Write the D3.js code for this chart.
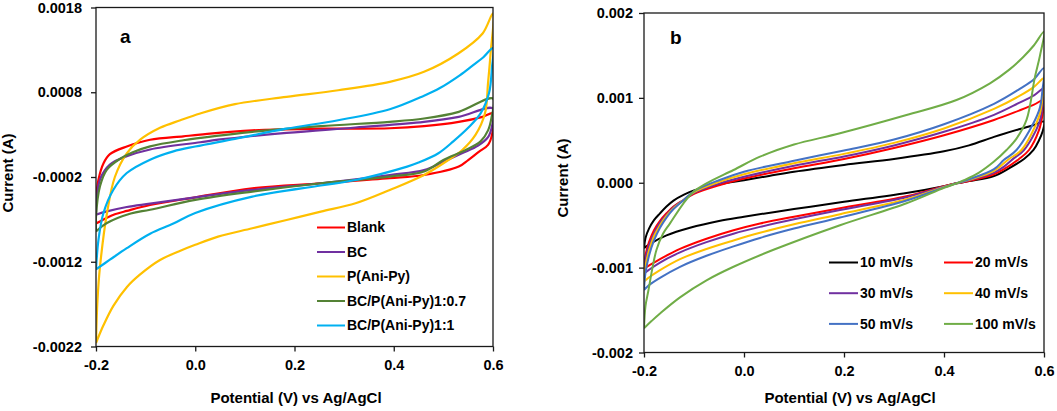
<!DOCTYPE html>
<html><head><meta charset="utf-8">
<script src="https://cdn.jsdelivr.net/npm/d3@7"></script>
<style>
body{margin:0;background:#fff;}
svg text{font-family:"Liberation Sans",Arial,sans-serif;font-weight:bold;fill:#000;}
</style></head><body>
<svg id="c" width="1057" height="411"></svg>
<script>
// ---------- tick values / labels ----------
const xTicks = [-0.2, 0, 0.2, 0.4, 0.6];
const xTickLabels = ["-0.2", "0.0", "0.2", "0.4", "0.6"];
const aYTicks = [0.0018, 0.0008, -0.0002, -0.0012, -0.0022];
const aYTickLabels = ["0.0018", "0.0008", "-0.0002", "-0.0012", "-0.0022"];
const bYTicks = [0.002, 0.001, 0, -0.001, -0.002];
const bYTickLabels = ["0.002", "0.001", "0.000", "-0.001", "-0.002"];

// ---------- panel a series (potential V, current mA) ----------
const aNames = ["Blank", "BC", "P(Ani-Py)", "BC/P(Ani-Py)1:0.7", "BC/P(Ani-Py)1:1"];
const aColors = ["#ff0000", "#7030a0", "#ffc000", "#548235", "#00b0f0"];
const blankFwd = [[-0.2,-0.75],[-0.2,-0.47],[-0.195,-0.23],[-0.185,-0.04],[-0.172,0.07],[-0.138,0.16],[-0.091,0.24],[-0.024,0.28],[0.01,0.30],[0.115,0.35],[0.254,0.37],[0.392,0.375],[0.461,0.40],[0.531,0.45],[0.579,0.51],[0.6,0.55]];
const blankRev = [[0.598,0.3],[0.59,0.18],[0.572,0.1],[0.55,0.0],[0.531,-0.077],[0.461,-0.176],[0.392,-0.215],[0.253,-0.274],[0.115,-0.333],[0.0,-0.44],[-0.091,-0.53],[-0.138,-0.6],[-0.162,-0.64],[-0.178,-0.68],[-0.2,-0.75]];
const bcFwd = [[-0.2,-0.645],[-0.199,-0.5],[-0.192,-0.23],[-0.172,-0.054],[-0.138,0.044],[-0.091,0.125],[0.01,0.21],[0.046,0.24],[0.184,0.32],[0.323,0.384],[0.461,0.451],[0.531,0.51],[0.6,0.608]];
const bcRev = [[0.598,0.4],[0.59,0.27],[0.57,0.17],[0.5375,0.08],[0.5,-0.02],[0.461,-0.118],[0.392,-0.177],[0.253,-0.274],[0.115,-0.353],[0.0,-0.44],[-0.091,-0.515],[-0.138,-0.554],[-0.178,-0.606],[-0.2,-0.645]];
const pFwd = [[-0.2,-2.16],[-0.197,-1.65],[-0.192,-1.26],[-0.178,-0.63],[-0.162,-0.2],[-0.138,0.08],[-0.111,0.24],[-0.071,0.38],[-0.03,0.47],[0.01,0.55],[0.08,0.66],[0.184,0.746],[0.288,0.824],[0.392,0.923],[0.461,1.041],[0.53,1.257],[0.579,1.493],[0.6,1.73]];
const pRev = [[0.595,1.25],[0.59,0.91],[0.584,0.555],[0.565,0.3],[0.538,0.118],[0.51,0.0],[0.461,-0.176],[0.392,-0.353],[0.323,-0.51],[0.253,-0.608],[0.184,-0.707],[0.115,-0.805],[0.046,-0.903],[0.0,-1.0],[-0.03,-1.07],[-0.071,-1.18],[-0.111,-1.35],[-0.138,-1.5],[-0.165,-1.72],[-0.185,-1.95],[-0.2,-2.16]];
const b07Fwd = [[-0.2,-0.842],[-0.2,-0.665],[-0.192,-0.31],[-0.178,-0.113],[-0.152,0.013],[-0.127,0.09],[-0.091,0.162],[-0.024,0.234],[0.01,0.261],[0.115,0.333],[0.253,0.40],[0.392,0.451],[0.461,0.49],[0.531,0.569],[0.6,0.726]];
const b07Rev = [[0.597,0.5],[0.59,0.35],[0.575,0.22],[0.545,0.118],[0.5,0.0],[0.461,-0.136],[0.392,-0.195],[0.253,-0.274],[0.115,-0.372],[0.0,-0.47],[-0.091,-0.586],[-0.13,-0.63],[-0.178,-0.743],[-0.2,-0.842]];
const b11Fwd = [[-0.2,-1.29],[-0.195,-0.94],[-0.185,-0.625],[-0.165,-0.35],[-0.138,-0.153],[-0.091,0.005],[-0.044,0.103],[0.0,0.16],[0.08,0.25],[0.184,0.37],[0.288,0.47],[0.392,0.6],[0.461,0.76],[0.493,0.85],[0.533,1.0],[0.56,1.12],[0.58,1.21],[0.6,1.32]];
const b11Rev = [[0.598,1.1],[0.592,0.79],[0.575,0.55],[0.55,0.38],[0.52,0.22],[0.49,0.08],[0.45,-0.03],[0.427,-0.077],[0.323,-0.235],[0.253,-0.3],[0.115,-0.431],[0.0,-0.625],[-0.044,-0.75],[-0.091,-0.87],[-0.138,-1.04],[-0.172,-1.176],[-0.2,-1.29]];

// ---------- panel b series (potential V, current mA) ----------
const bNames = ["10 mV/s", "20 mV/s", "30 mV/s", "40 mV/s", "50 mV/s", "100 mV/s"];
const bColors = ["#000000", "#ff0000", "#7030a0", "#ffc000", "#4472c4", "#70ad47"];
const s10Fwd = [[-0.2,-0.77],[-0.197,-0.65],[-0.19,-0.54],[-0.18,-0.44],[-0.168,-0.36],[-0.155,-0.28],[-0.141,-0.21],[-0.12,-0.14],[-0.1,-0.09],[-0.05,-0.02],[0,0.03],[0.05,0.08],[0.1,0.13],[0.2,0.21],[0.3,0.28],[0.4,0.37],[0.45,0.44],[0.5,0.54],[0.55,0.63],[0.58,0.68],[0.6,0.72]];
const s10Rev = [[0.597,0.6],[0.59,0.5],[0.579,0.386],[0.56,0.28],[0.53,0.17],[0.5,0.08],[0.45,0.02],[0.425,-0.007],[0.4,-0.04],[0.325,-0.12],[0.2,-0.225],[0.1,-0.31],[0.0,-0.4],[-0.05,-0.45],[-0.108,-0.53],[-0.155,-0.62],[-0.188,-0.72],[-0.2,-0.77]];
const s20Fwd = [[-0.2,-1.01],[-0.197,-0.85],[-0.19,-0.7],[-0.18,-0.56],[-0.168,-0.45],[-0.155,-0.36],[-0.141,-0.28],[-0.12,-0.2],[-0.1,-0.13],[-0.05,-0.03],[0,0.05],[0.1,0.17],[0.2,0.28],[0.3,0.41],[0.4,0.56],[0.5,0.74],[0.55,0.85],[0.58,0.92],[0.6,0.975]];
const s20Rev = [[0.597,0.8],[0.59,0.62],[0.57,0.386],[0.55,0.28],[0.52,0.16],[0.5,0.1],[0.45,0.02],[0.425,-0.007],[0.4,-0.04],[0.325,-0.16],[0.192,-0.3],[0.1,-0.4],[0.032,-0.48],[-0.021,-0.56],[-0.075,-0.66],[-0.128,-0.78],[-0.168,-0.9],[-0.191,-0.98],[-0.2,-1.01]];
const s30Fwd = [[-0.2,-1.067],[-0.197,-0.9],[-0.19,-0.74],[-0.18,-0.6],[-0.168,-0.47],[-0.155,-0.38],[-0.141,-0.29],[-0.12,-0.2],[-0.1,-0.12],[-0.05,-0.01],[0,0.07],[0.1,0.2],[0.2,0.31],[0.3,0.44],[0.4,0.6],[0.5,0.8],[0.55,0.94],[0.58,1.03],[0.6,1.11]];
const s30Rev = [[0.597,0.9],[0.59,0.7],[0.56,0.386],[0.54,0.29],[0.52,0.19],[0.5,0.12],[0.45,0.03],[0.425,-0.007],[0.4,-0.045],[0.325,-0.17],[0.192,-0.32],[0.1,-0.43],[0.032,-0.52],[-0.021,-0.6],[-0.075,-0.7],[-0.128,-0.82],[-0.168,-0.94],[-0.191,-1.03],[-0.2,-1.067]];
const s40Fwd = [[-0.2,-1.165],[-0.197,-0.98],[-0.19,-0.8],[-0.18,-0.63],[-0.168,-0.5],[-0.155,-0.39],[-0.141,-0.3],[-0.12,-0.2],[-0.1,-0.11],[-0.05,0.01],[0,0.1],[0.1,0.23],[0.2,0.34],[0.3,0.47],[0.4,0.64],[0.5,0.87],[0.55,1.02],[0.58,1.13],[0.6,1.23]];
const s40Rev = [[0.597,1.0],[0.59,0.78],[0.555,0.386],[0.53,0.28],[0.5,0.14],[0.45,0.035],[0.425,-0.007],[0.4,-0.05],[0.325,-0.195],[0.192,-0.37],[0.1,-0.49],[0.032,-0.59],[-0.021,-0.68],[-0.075,-0.78],[-0.128,-0.9],[-0.168,-1.03],[-0.191,-1.12],[-0.2,-1.165]];
const s50Fwd = [[-0.2,-1.264],[-0.197,-1.06],[-0.19,-0.86],[-0.18,-0.68],[-0.168,-0.53],[-0.155,-0.41],[-0.141,-0.31],[-0.12,-0.2],[-0.1,-0.1],[-0.05,0.03],[0,0.13],[0.1,0.26],[0.2,0.38],[0.3,0.51],[0.4,0.69],[0.5,0.93],[0.55,1.1],[0.58,1.22],[0.6,1.35]];
const s50Rev = [[0.597,1.1],[0.59,0.85],[0.545,0.386],[0.52,0.27],[0.5,0.16],[0.45,0.04],[0.425,-0.007],[0.4,-0.055],[0.325,-0.21],[0.192,-0.41],[0.1,-0.54],[0.032,-0.65],[-0.021,-0.75],[-0.075,-0.86],[-0.128,-0.99],[-0.168,-1.12],[-0.191,-1.21],[-0.2,-1.264]];
const s100Fwd = [[-0.2,-1.715],[-0.197,-1.45],[-0.191,-1.264],[-0.183,-1.0],[-0.175,-0.79],[-0.162,-0.6],[-0.148,-0.478],[-0.121,-0.242],[-0.1,-0.1],[-0.075,-0.007],[-0.021,0.15],[0.032,0.307],[0.1,0.45],[0.192,0.583],[0.325,0.798],[0.425,0.975],[0.492,1.172],[0.53,1.33],[0.559,1.485],[0.58,1.62],[0.6,1.78]];
const s100Rev = [[0.592,1.5],[0.582,1.25],[0.565,0.74],[0.545,0.52],[0.525,0.386],[0.5,0.25],[0.47,0.12],[0.44,0.03],[0.425,-0.007],[0.4,-0.06],[0.325,-0.242],[0.192,-0.5],[0.059,-0.79],[-0.021,-0.99],[-0.075,-1.15],[-0.128,-1.35],[-0.168,-1.54],[-0.185,-1.63],[-0.2,-1.715]];

const aLoops = [[blankFwd, blankRev],[bcFwd, bcRev],[pFwd, pRev],[b07Fwd, b07Rev],[b11Fwd, b11Rev]];
const bLoops = [[s10Fwd, s10Rev],[s20Fwd, s20Rev],[s30Fwd, s30Rev],[s40Fwd, s40Rev],[s50Fwd, s50Rev],[s100Fwd, s100Rev]];

const svg = d3.select("#c");

function panel(o) {
  const x = d3.scaleLinear().domain([-0.2, 0.6]).range([o.left, o.right]);
  const y = d3.scaleLinear().domain(o.yDomain).range([o.bottom, o.top]);
  const g = svg.append("g");
  const clipId = "clip" + o.id;
  g.append("clipPath").attr("id", clipId).append("rect")
    .attr("x", o.left).attr("y", o.top - 1).attr("width", o.right - o.left).attr("height", o.bottom - o.top + 2);

  const line = d3.line().x(d => x(d[0])).y(d => y(d[1] / 1000)).curve(d3.curveCatmullRom.alpha(0.5));
  const lines = g.append("g").attr("clip-path", `url(#${clipId})`);
  o.loops.forEach((lp, i) => {
    lines.append("path").attr("d", line(lp[0].concat(lp[1])))
      .attr("fill", "none").attr("stroke", o.colors[i]).attr("stroke-width", o.lw)
      .attr("stroke-linejoin", "round");
  });

  // frame
  g.append("rect").attr("x", o.left).attr("y", o.top).attr("width", o.right - o.left)
    .attr("height", o.bottom - o.top).attr("fill", "none").attr("stroke", "#1a1a1a").attr("stroke-width", 1.3);

  const ax = g.append("g").attr("transform", `translate(0,${o.bottom})`)
    .call(d3.axisBottom(x).tickValues(xTicks).tickFormat((d, i) => xTickLabels[i]).tickSize(5).tickPadding(8).tickSizeOuter(0));
  const ay = g.append("g").attr("transform", `translate(${o.left},0)`)
    .call(d3.axisLeft(y).tickValues(o.yTicks).tickFormat((d, i) => o.yLabels[i]).tickSize(5).tickPadding(o.yPad).tickSizeOuter(0));
  [ax, ay].forEach(a => {
    a.select(".domain").remove();
    a.selectAll(".tick line").attr("stroke", "#1a1a1a").attr("stroke-width", 1.3);
    a.selectAll(".tick text").attr("font-size", "14.5px").attr("font-family", null).attr("fill", "#000");
  });

  g.append("text").attr("x", o.letterX).attr("y", o.letterY).attr("font-size", "19px").text(o.letter);
  g.append("text").attr("x", o.xTitleX).attr("y", 403).attr("text-anchor", "middle").attr("font-size", "15px")
    .text("Potential (V) vs Ag/AgCl");
  g.append("text").attr("transform", `translate(${o.yTitleX},${o.yTitleY}) rotate(-90)`)
    .attr("text-anchor", "middle").attr("font-size", "15px").text("Current (A)");

  // legend
  const lg = g.append("g");
  o.names.forEach((n, i) => {
    const p = o.legendPos(i);
    lg.append("line").attr("x1", p[0]).attr("x2", p[0] + o.legLen).attr("y1", p[1]).attr("y2", p[1])
      .attr("stroke", o.colors[i]).attr("stroke-width", 2);
    lg.append("text").attr("x", p[0] + o.legLen + 2).attr("y", p[1]).attr("dy", "0.35em")
      .attr("font-size", "14px").text(n);
  });
}

panel({
  id: "a", left: 96, right: 493, top: 7.5, bottom: 346.5, yDomain: [-0.0022, 0.0018],
  yTicks: aYTicks, yLabels: aYTickLabels, yPad: 9, loops: aLoops, colors: aColors, lw: 2.2,
  letter: "a", letterX: 120, letterY: 43, xTitleX: 296, yTitleX: 13, yTitleY: 173,
  names: aNames, legLen: 28, legendPos: i => [317, 227.5 + i * 24.5]
});
panel({
  id: "b", left: 644, right: 1044, top: 13, bottom: 352.5, yDomain: [-0.002, 0.002],
  yTicks: bYTicks, yLabels: bYTickLabels, yPad: 6, loops: bLoops, colors: bColors, lw: 2,
  letter: "b", letterX: 670, letterY: 44, xTitleX: 850, yTitleX: 568, yTitleY: 178,
  names: bNames, legLen: 29, legendPos: i => [i % 2 === 0 ? 829 : 944, 262.5 + Math.floor(i / 2) * 30.7]
});
</script>
</body></html>
